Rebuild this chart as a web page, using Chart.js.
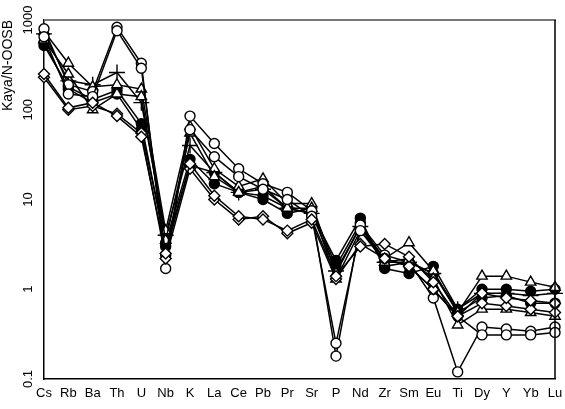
<!DOCTYPE html>
<html>
<head>
<meta charset="utf-8">
<script src="https://cdn.jsdelivr.net/npm/chart.js@4"></script>
<style>
  html, body { margin: 0; padding: 0; background: #fff; }
  #wrap { width: 565px; height: 409px; }
</style>
</head>
<body>
<div id="wrap"><canvas id="myChart" width="565" height="409"></canvas></div>
<script>
const elements = ["Cs", "Rb", "Ba", "Th", "U", "Nb", "K", "La", "Ce", "Pb", "Pr", "Sr", "P", "Nd", "Zr", "Sm", "Eu", "Ti", "Dy", "Y", "Yb", "Lu"];
const yTicks = [0.1, 1, 10, 100, 1000];

// one array per sample
const openCircle1 = [800, 190, 160, 830, 330, 1.7, 85, 42, 22, 15, 12, 7.5, 0.18, 5.2, 2.4, 2.0, 0.8, 0.12, 0.38, 0.36, 0.34, 0.38];
const openCircle2 = [650, 150, 140, 760, 290, 2.4, 60, 30, 18, 13, 10, 6.5, 0.25, 4.5, 2.2, 1.8, 1.0, 0.5, 0.31, 0.31, 0.31, 0.33];
const triangle1 = [750, 330, 180, 190, 170, 4.5, 65, 22, 14, 17, 9, 9, 1.5, 5, 2.2, 3.3, 1.6, 0.55, 1.4, 1.4, 1.2, 1.05];
const triangle2 = [600, 250, 100, 150, 140, 3.5, 55, 18, 12, 14, 8, 8, 1.3, 4.5, 2.0, 2.2, 1.3, 0.4, 0.6, 0.6, 0.55, 0.5];
const filled1 = [520, 180, 130, 165, 70, 3.0, 24, 20, 12, 11, 8, 7, 2.1, 6.2, 1.7, 1.5, 1.8, 0.6, 1.0, 1.0, 0.95, 1.0];
const filled2 = [560, 170, 120, 150, 60, 3.3, 28, 15, 12, 10, 7, 8, 1.8, 5.5, 1.8, 2.0, 1.5, 0.55, 0.8, 0.85, 0.7, 0.7];
const diamond1 = [250, 105, 120, 85, 50, 2.5, 25, 11, 6.5, 6, 4.5, 6, 1.4, 3, 3.2, 2.3, 1.2, 0.5, 0.9, 0.8, 0.75, 0.7];
const diamond2 = [230, 100, 110, 90, 55, 2.2, 22, 10, 6, 6.5, 4.2, 5.5, 1.3, 3.2, 2.2, 1.8, 1.0, 0.5, 0.7, 0.65, 0.6, 0.55];
const plus1 = [700, 210, 190, 260, 120, 4, 40, 20, 12, 13, 8, 7, 1.6, 5, 2, 2, 1.5, 0.6, 0.9, 0.9, 0.85, 0.9];

function series(data, style, fill, radius) {
  return {
    data: data,
    borderColor: "#000",
    borderWidth: 1.5,
    pointStyle: style,
    pointRadius: radius,
    pointBorderWidth: 1.4,
    pointBorderColor: "#000",
    pointBackgroundColor: fill,
    backgroundColor: fill,
    tension: 0,
    clip: false,
  };
}

const frame = {
  id: "frame",
  afterDraw(chart) {
    const a = chart.chartArea;
    const c = chart.ctx;
    c.save();
    c.strokeStyle = "#777";
    c.lineWidth = 2;
    c.beginPath();
    c.moveTo(a.left, a.top);
    c.lineTo(a.right + 1, a.top);
    c.stroke();
    c.strokeStyle = "#000";
    c.lineWidth = 1.5;
    c.beginPath();
    c.moveTo(a.right, a.top);
    c.lineTo(a.right, a.bottom);
    c.stroke();
    c.restore();
  },
};

const ctx = document.getElementById("myChart");
new Chart(ctx, {
  type: "line",
  data: {
    labels: elements,
    datasets: [
      series(diamond1, "rectRot", "#fff", 5.5),
      series(diamond2, "rectRot", "#fff", 5.5),
      series(openCircle2, "circle", "#fff", 5),
      series(openCircle1, "circle", "#fff", 5),
      series(triangle2, "triangle", "#fff", 6),
      series(triangle1, "triangle", "#fff", 6),
      series(plus1, "cross", "#fff", 8),
      series(filled2, "circle", "#000", 5),
      series(filled1, "circle", "#000", 5),
    ],
  },
  options: {
    responsive: false,
    animation: false,
    layout: { padding: { top: 20, right: 10, left: 0, bottom: 0 } },
    plugins: { legend: { display: false }, tooltip: { enabled: false } },
    scales: {
      x: {
        offset: false,
        grid: { display: false, drawOnChartArea: false, drawTicks: true, tickLength: 6, tickColor: "#000", tickWidth: 1.5 },
        border: { display: true, color: "#000", width: 1.5 },
        ticks: { color: "#000", font: { family: "Liberation Sans", size: 13 }, padding: 1, maxRotation: 0, autoSkip: false },
        afterFit(scale) { scale.height = 30; },
      },
      y: {
        type: "logarithmic",
        min: 0.1,
        max: 1000,
        afterBuildTicks(scale) { scale.ticks = yTicks.map(v => ({ value: v })); },
        grid: { display: false, drawOnChartArea: false, drawTicks: true, tickLength: 6, tickColor: "#000", tickWidth: 1.5 },
        border: { display: true, color: "#000", width: 1.5 },
        ticks: {
          color: "#000",
          font: { family: "Liberation Sans", size: 13 },
          minRotation: 90,
          maxRotation: 90,
          crossAlign: "center",
          padding: -5,
          callback: v => String(v),
        },
        title: {
          display: true,
          text: "Kaya/N-OOSB",
          align: "end",
          color: "#000",
          font: { family: "Liberation Sans", size: 14 },
          padding: { top: 0, bottom: 0 },
        },
        afterFit(scale) { scale.width = 44; },
      },
    },
  },
  plugins: [frame],
});
</script>
</body>
</html>
